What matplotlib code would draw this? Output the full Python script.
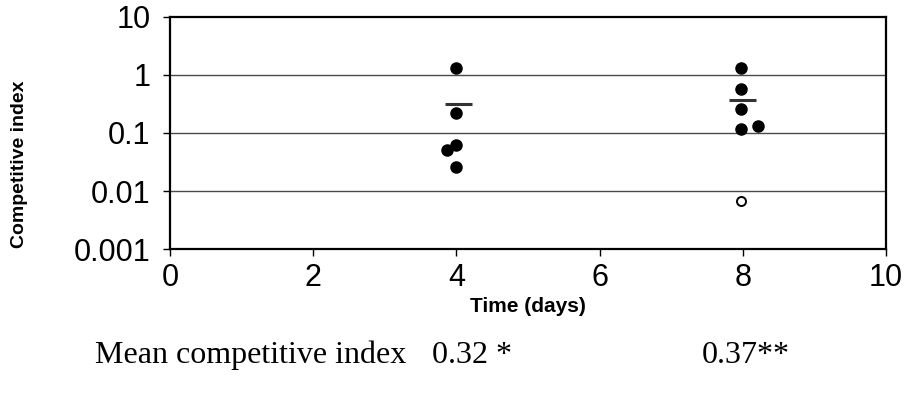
import matplotlib
matplotlib.use('Agg')
import matplotlib.pyplot as plt
from matplotlib.ticker import FixedLocator, FixedFormatter, NullLocator

# competitive index per animal, day 4 and day 8
day4_time = [4.0, 4.0, 3.865, 4.0, 4.0]
day4_ci = [1.30, 0.217, 0.050, 0.063, 0.026]
day8_time = [7.98, 7.98, 7.98, 7.98, 8.21]
day8_ci = [1.33, 0.57, 0.26, 0.115, 0.134]
# animal below detection limit (open symbol)
day8_open_time = [7.98]
day8_open_ci = [0.0068]

# group means
mean_time = [4.03, 8.0]
mean_ci = [0.32, 0.37]
mean_labels = ['0.32 *', '0.37**']

y_ticks = [0.001, 0.01, 0.1, 1, 10]
y_ticklabels = ['0.001', '0.01', '0.1', '1', '10']
x_ticks = [0, 2, 4, 6, 8, 10]

sans = 'Liberation Sans'
serif = 'Liberation Serif'

fig = plt.figure(figsize=(9.1, 3.99), dpi=100)
ax = fig.add_axes([0.1868, 0.3752, 0.7868, 0.5830])

ax.set_yscale('log')
ax.set_ylim(0.001, 10)
ax.set_xlim(0, 10)

# horizontal gridlines at inner decades
for g in y_ticks[1:-1]:
    ax.axhline(g, color='#4a4a4a', lw=1.0, zorder=1)

ax.plot(day4_time, day4_ci, 'o', color='black', ms=8, zorder=3)
ax.plot(day8_time, day8_ci, 'o', color='black', ms=8, zorder=3)
ax.plot(day8_open_time, day8_open_ci, 'o', mfc='white', mec='black', mew=1.4, ms=6.5, zorder=3)

for t, m in zip(mean_time, mean_ci):
    ax.plot([t - 0.19, t + 0.19], [m, m], color='#333333', lw=2.2, solid_capstyle='butt', zorder=2)

ax.yaxis.set_major_locator(FixedLocator(y_ticks))
ax.yaxis.set_major_formatter(FixedFormatter(y_ticklabels))
ax.yaxis.set_minor_locator(NullLocator())
ax.set_xticks(x_ticks)
ax.set_xticklabels([str(v) for v in x_ticks])

ax.tick_params(axis='y', direction='out', length=5, width=1, pad=9, labelsize=22)
ax.tick_params(axis='x', direction='out', length=5, width=1, pad=5, labelsize=22)
for lbl in ax.get_xticklabels() + ax.get_yticklabels():
    lbl.set_fontfamily(sans)

for s in ax.spines.values():
    s.set_linewidth(1.6)
    s.set_color('black')

ax.set_xlabel('Time (days)', fontfamily=sans, fontweight='bold', fontsize=15, labelpad=3)
fig.text(20 / 910, 0.589, 'Competitive index', rotation=90, ha='center', va='center',
         fontfamily=sans, fontweight='bold', fontsize=14)

# means printed under the axis
fig.text(95 / 910, 0.09, 'Mean competitive index', fontfamily=serif, fontsize=23, ha='left', va='baseline')
fig.text(432 / 910, 0.09, mean_labels[0], fontfamily=serif, fontsize=23, ha='left', va='baseline')
fig.text(702 / 910, 0.09, mean_labels[1], fontfamily=serif, fontsize=23, ha='left', va='baseline')

fig.savefig('out.png', dpi=100)
